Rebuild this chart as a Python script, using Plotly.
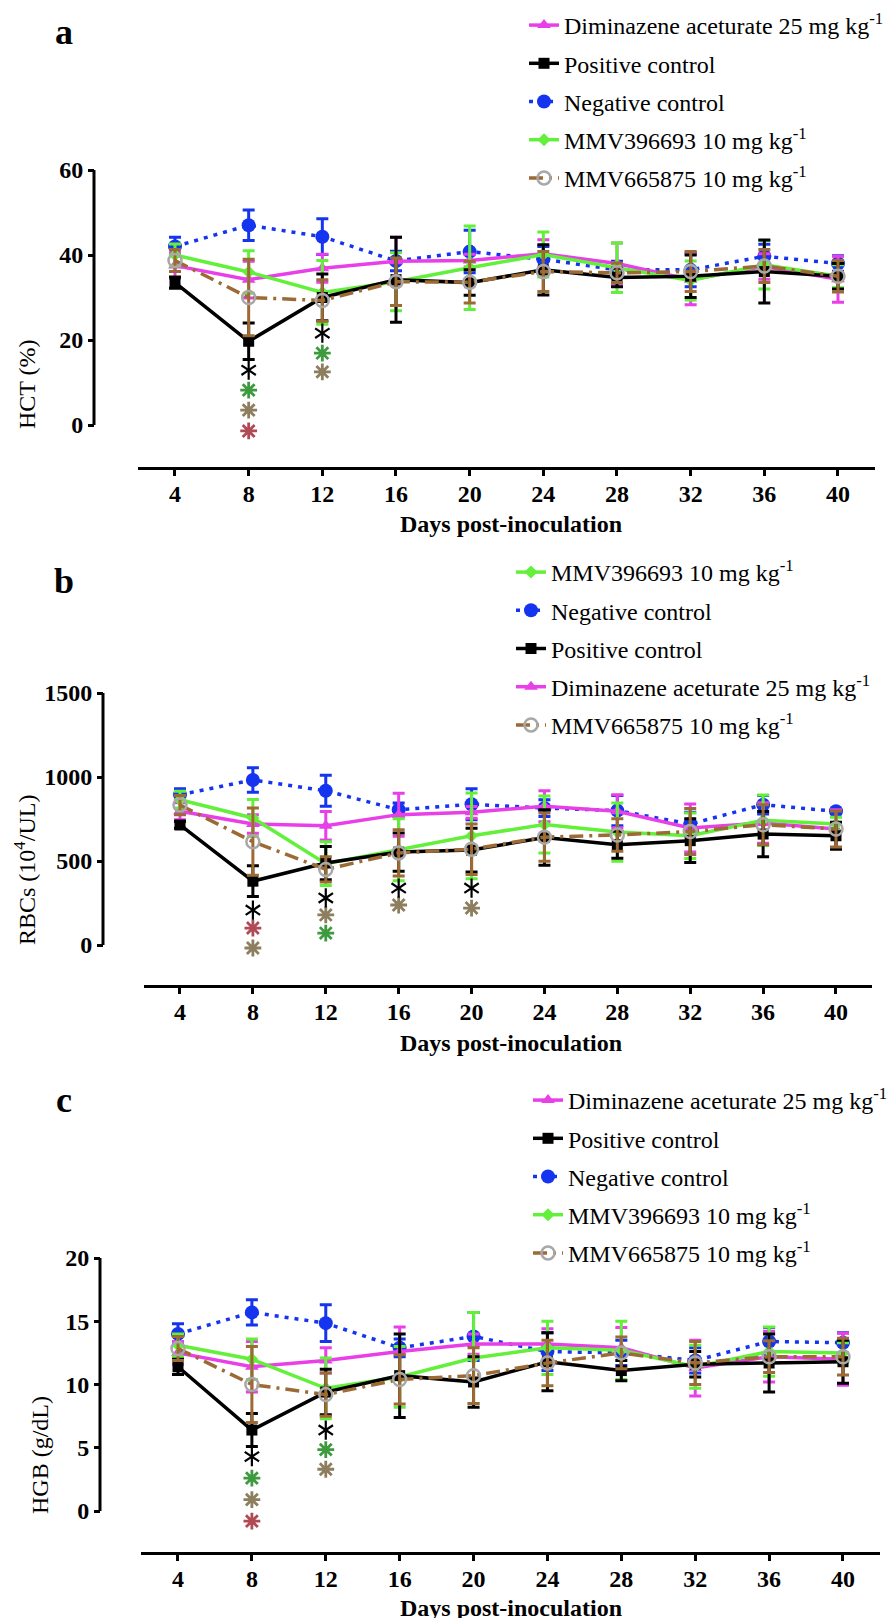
import plotly.graph_objects as go

W, H = 896, 1618

days = [4, 8, 12, 16, 20, 24, 28, 32, 36, 40]

# HCT (%)
hct_dim = [37.5, 34.2, 36.9, 38.5, 38.7, 40.3, 38.0, 34.2, 37.3, 34.3]
hct_dim_sd = [3.0, 4.3, 3.3, 5.7, 1.5, 3.3, 4.8, 5.9, 3.0, 5.4]
hct_pos = [33.5, 19.7, 30.0, 34.2, 33.5, 36.5, 34.7, 35.0, 36.1, 35.0]
hct_pos_sd = [1.3, 4.3, 5.5, 10.0, 3.0, 5.9, 2.2, 5.0, 7.4, 3.0]
hct_neg = [42.0, 47.0, 44.3, 38.6, 40.8, 39.0, 36.5, 36.5, 39.7, 38.0]
hct_neg_sd = [2.2, 3.6, 4.2, 2.3, 5.0, 3.0, 2.0, 4.0, 2.8, 1.8]
hct_m39 = [40.0, 36.0, 31.2, 33.7, 37.0, 40.1, 37.0, 34.0, 37.7, 35.0]
hct_m39_sd = [2.6, 5.0, 7.5, 6.8, 9.8, 5.3, 5.8, 4.6, 5.7, 2.7]
hct_m66 = [38.7, 30.0, 29.3, 33.7, 33.6, 36.1, 35.8, 36.1, 37.4, 35.0]
hct_m66_sd = [2.6, 9.0, 4.9, 5.6, 4.9, 4.7, 2.3, 4.7, 3.9, 3.7]

# RBCs (10^4/UL)
rbc_dim = [796, 720, 710, 776, 790, 826, 796, 696, 726, 690]
rbc_dim_sd = [50, 55, 85, 128, 35, 92, 98, 143, 120, 115]
rbc_pos = [715, 380, 488, 553, 565, 640, 597, 621, 660, 650]
rbc_pos_sd = [20, 92, 99, 114, 130, 165, 80, 130, 135, 80]
rbc_neg = [895, 982, 918, 805, 838, 815, 800, 720, 835, 796]
rbc_neg_sd = [35, 73, 92, 40, 92, 50, 90, 70, 55, 12]
rbc_m39 = [865, 756, 484, 567, 650, 717, 672, 650, 743, 720]
rbc_m39_sd = [50, 110, 130, 185, 255, 170, 173, 135, 150, 40]
rbc_m66 = [833, 615, 450, 548, 570, 642, 655, 675, 716, 690]
rbc_m66_sd = [57, 200, 75, 138, 150, 144, 97, 137, 119, 107]

# HGB (g/dL)
hgb_dim = [12.5, 11.4, 11.9, 12.6, 13.2, 13.2, 12.9, 11.3, 12.2, 12.0]
hgb_dim_sd = [0.9, 2.0, 1.0, 1.95, 0.8, 1.2, 1.6, 2.2, 2.0, 2.05]
hgb_pos = [11.4, 6.4, 9.4, 10.7, 10.2, 11.8, 11.1, 11.6, 11.7, 11.8]
hgb_pos_sd = [0.6, 1.3, 1.8, 3.3, 2.0, 2.3, 0.8, 1.0, 2.3, 1.7]
hgb_neg = [14.0, 15.7, 14.85, 12.9, 13.8, 12.6, 12.5, 11.9, 13.4, 13.3]
hgb_neg_sd = [0.8, 1.0, 1.45, 0.7, 1.9, 1.5, 1.0, 1.0, 1.1, 0.8]
hgb_m39 = [13.1, 12.0, 9.7, 10.6, 12.1, 12.9, 12.7, 11.4, 12.6, 12.5]
hgb_m39_sd = [0.9, 1.6, 2.4, 2.4, 3.6, 2.1, 2.3, 1.7, 1.95, 0.8]
hgb_m66 = [12.85, 10.0, 9.2, 10.4, 10.7, 11.7, 12.5, 11.7, 12.2, 12.2]
hgb_m66_sd = [0.95, 3.0, 1.7, 1.95, 2.2, 1.8, 1.25, 1.7, 1.25, 1.45]

# significance asterisks (day, level, colour key)
hct_sig_x = [8, 8, 8, 8, 12, 12, 12]
hct_sig_y = [12.9, 8.2, 3.5, -1.4, 21.6, 16.9, 12.5]
hct_sig_c = ["k", "g", "t", "r", "k", "g", "t"]
rbc_sig_x = [8, 8, 8, 12, 12, 12, 16, 16, 20, 20]
rbc_sig_y = [208, 101, -18, 280, 179, 71, 339, 238, 339, 220]
rbc_sig_c = ["k", "r", "t", "k", "t", "g", "k", "t", "k", "t"]
hgb_sig_x = [8, 8, 8, 8, 12, 12, 12]
hgb_sig_y = [4.3, 2.6, 0.9, -0.8, 6.4, 4.85, 3.3]
hgb_sig_c = ["k", "g", "t", "r", "k", "g", "t"]

names = {
    "dim": "Diminazene aceturate 25 mg kg<sup>-1</sup>",
    "pos": "Positive control",
    "neg": "Negative control",
    "m39": "MMV396693 10 mg kg<sup>-1</sup>",
    "m66": "MMV665875 10 mg kg<sup>-1</sup>",
}
colors = {"dim": "#E83FE8", "pos": "#000000", "neg": "#1434F0",
          "m39": "#62F03A", "m66": "#9C6A34"}
sig_colors = {"k": "#000000", "g": "#3E9A3E", "t": "#8C7E5E", "r": "#B04A55"}
draw_order = ["neg", "dim", "m39", "pos", "m66"]

FONT = "Liberation Serif"


def px(x):
    return x / W


def py(y):
    return 1 - y / H


panels = [
    dict(data={"dim": (hct_dim, hct_dim_sd), "pos": (hct_pos, hct_pos_sd),
               "neg": (hct_neg, hct_neg_sd), "m39": (hct_m39, hct_m39_sd),
               "m66": (hct_m66, hct_m66_sd)},
         sig=(hct_sig_x, hct_sig_y, hct_sig_c),
         order=["dim", "pos", "neg", "m39", "m66"],
         ymax=60, ytick=[0, 20, 40, 60], ytop=162, ybot=417, xaxis_y=460,
         yline_x=86, x4=167, x40=830, legend_x=516, legend_y=-5,
         label="a", label_y=24, ytitle="HCT (%)", ytitle_xy=(19, 376), xtitle_y=516),
    dict(data={"dim": (rbc_dim, rbc_dim_sd), "pos": (rbc_pos, rbc_pos_sd),
               "neg": (rbc_neg, rbc_neg_sd), "m39": (rbc_m39, rbc_m39_sd),
               "m66": (rbc_m66, rbc_m66_sd)},
         sig=(rbc_sig_x, rbc_sig_y, rbc_sig_c),
         order=["m39", "neg", "pos", "dim", "m66"],
         ymax=1500, ytick=[0, 500, 1000, 1500], ytop=685, ybot=937, xaxis_y=978,
         yline_x=95, x4=172, x40=828, legend_x=503, legend_y=542,
         label="b", label_y=573, ytitle="RBCs (10<sup>4</sup>/UL)", ytitle_xy=(17, 862),
         xtitle_y=1035),
    dict(data={"dim": (hgb_dim, hgb_dim_sd), "pos": (hgb_pos, hgb_pos_sd),
               "neg": (hgb_neg, hgb_neg_sd), "m39": (hgb_m39, hgb_m39_sd),
               "m66": (hgb_m66, hgb_m66_sd)},
         sig=(hgb_sig_x, hgb_sig_y, hgb_sig_c),
         order=["dim", "pos", "neg", "m39", "m66"],
         ymax=20, ytick=[0, 5, 10, 15, 20], ytop=1250, ybot=1503, xaxis_y=1545,
         yline_x=92, x4=170, x40=835, legend_x=520, legend_y=1070,
         label="c", label_y=1092, ytitle="HGB (g/dL)", ytitle_xy=(32, 1447),
         xtitle_y=1600),
]

markers = {
    "dim": dict(symbol="triangle-up", size=12, color=colors["dim"]),
    "pos": dict(symbol="square", size=11, color=colors["pos"]),
    "neg": dict(symbol="circle", size=14, color=colors["neg"]),
    "m39": dict(symbol="diamond", size=10, color=colors["m39"]),
    "m66": dict(symbol="circle-open", size=13, color="#A8A8A8", line=dict(width=2.5)),
}
dashes = {"dim": "solid", "pos": "solid", "neg": "4px,6px", "m39": "solid",
          "m66": "14px,6px,3px,6px"}

fig = go.Figure()
annotations = []
shapes = []
layout_axes = {}

for i, p in enumerate(panels):
    sfx = "" if i == 0 else str(i + 1)
    for key in draw_order:
        vals, sd = p["data"][key]
        fig.add_trace(go.Scatter(
            x=days, y=vals, mode="lines+markers", name=names[key],
            line=dict(color=colors[key], width=3.5, dash=dashes[key]),
            marker=markers[key],
            error_y=dict(type="data", array=sd, color=colors[key], thickness=3, width=6),
            xaxis="x" + sfx, yaxis="y" + sfx,
            legend="legend" + sfx, legendgroup=f"{i}{key}",
            legendrank=p["order"].index(key) + 1,
        ))
    sx, sy, sc = p["sig"]
    for c in ["g", "t", "r"]:
        xs = [x for x, cc in zip(sx, sc) if cc == c]
        ys = [y for y, cc in zip(sy, sc) if cc == c]
        fig.add_trace(go.Scatter(
            x=xs, y=ys, mode="markers", showlegend=False, cliponaxis=False,
            marker=dict(symbol="asterisk-open", size=14, color=sig_colors[c],
                        line=dict(width=2.8, color=sig_colors[c])),
            xaxis="x" + sfx, yaxis="y" + sfx, hoverinfo="skip"))
    xs = [x for x, cc in zip(sx, sc) if cc == "k"]
    ys = [y for y, cc in zip(sy, sc) if cc == "k"]
    for sym in ["y-up-open", "y-down-open"]:
        fig.add_trace(go.Scatter(
            x=xs, y=ys, mode="markers", showlegend=False, cliponaxis=False,
            marker=dict(symbol=sym, size=12, color="black",
                        line=dict(width=2.2, color="black")),
            xaxis="x" + sfx, yaxis="y" + sfx, hoverinfo="skip"))

    step = (p["x40"] - p["x4"]) / 36
    left = p["x4"] - 2 * step
    right = p["x40"] + 2 * step
    # y range extended below zero down to the detached x axis
    ymin = -p["ymax"] * (p["xaxis_y"] - p["ybot"]) / (p["ybot"] - p["ytop"])
    layout_axes["xaxis" + sfx] = dict(
        domain=[px(left), px(right)], range=[2, 42], anchor="free",
        position=py(p["xaxis_y"]), tickvals=days, ticks="outside", ticklen=6,
        tickwidth=3, tickcolor="black", showline=True, linewidth=3, linecolor="black",
        showgrid=False, zeroline=False, ticklabelstandoff=-3,
        tickfont=dict(family=FONT, size=24, color="black", weight="bold"))
    layout_axes["yaxis" + sfx] = dict(
        domain=[py(p["xaxis_y"]), py(p["ytop"])], range=[ymin, p["ymax"]], anchor="free",
        position=px(p["yline_x"]), tickvals=p["ytick"], ticks="outside", ticklen=6,
        tickwidth=3, tickcolor="black", showline=False,
        showgrid=False, zeroline=False,
        tickfont=dict(family=FONT, size=24, color="black", weight="bold"))
    layout_axes["legend" + sfx] = dict(
        x=px(p["legend_x"]), y=py(p["legend_y"]), xanchor="left", yanchor="top",
        bgcolor="rgba(0,0,0,0)", tracegroupgap=4,
        font=dict(family=FONT, size=24, color="black"))

    shapes.append(dict(
        type="line", xref="paper", yref="y" + sfx,
        x0=px(p["yline_x"]), x1=px(p["yline_x"]), y0=0, y1=p["ymax"],
        line=dict(color="black", width=3)))

    annotations.append(dict(
        text=p["label"], x=px(56), y=py(p["label_y"]), xref="paper", yref="paper",
        xanchor="center", yanchor="middle", showarrow=False,
        font=dict(family=FONT, size=36, color="black", weight="bold")))
    annotations.append(dict(
        text=p["ytitle"], x=px(p["ytitle_xy"][0]), y=py(p["ytitle_xy"][1]),
        xref="paper", yref="paper", xanchor="center", yanchor="middle",
        textangle=-90, showarrow=False,
        font=dict(family=FONT, size=24, color="black")))
    annotations.append(dict(
        text="Days post-inoculation", x=px(503), y=py(p["xtitle_y"]),
        xref="paper", yref="paper", xanchor="center", yanchor="middle",
        showarrow=False,
        font=dict(family=FONT, size=24, color="black", weight="bold")))

fig.update_layout(
    width=W, height=H, autosize=False,
    margin=dict(l=0, r=0, t=0, b=0, autoexpand=False),
    paper_bgcolor="white", plot_bgcolor="white",
    font=dict(family=FONT, color="black"),
    annotations=annotations,
    shapes=shapes,
    **layout_axes,
)

fig.write_html("out.html")
